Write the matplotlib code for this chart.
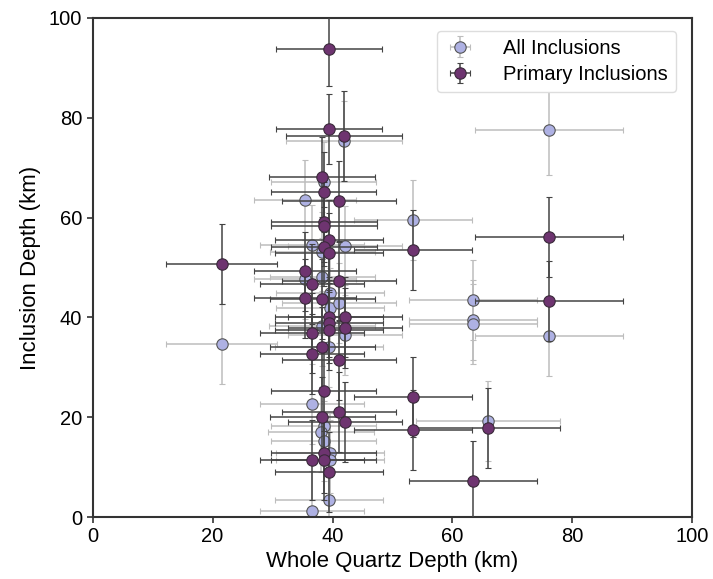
import matplotlib
matplotlib.use('Agg')
import matplotlib.pyplot as plt

plt.rcParams['font.family'] = ['Liberation Sans', 'DejaVu Sans']

# All inclusions (whole quartz depth, inclusion depth, errors in km)
all_x = [21.5, 35.4, 35.4, 36.6, 36.6, 36.6, 38.5, 38.3, 38.3, 38.2,
         38.5, 38.1, 38.5, 39.6, 39.6, 39.4, 39.6, 39.6, 39.4, 41.1,
         41.9, 42.0, 42.0, 53.4, 63.4, 63.4, 63.4, 66.0, 76.1, 76.1]
all_y = [34.7, 63.5, 47.6, 54.5, 22.6, 1.2, 67.1, 53.2, 48.0, 38.3,
         18.2, 17.1, 15.3, 44.9, 41.8, 34.1, 12.8, 11.4, 3.4, 42.9,
         75.4, 54.4, 36.5, 59.5, 43.5, 39.5, 38.7, 19.2, 77.6, 36.3]
all_xerr = [9.2, 8.5, 8.5, 8.7, 8.7, 8.7, 8.8, 8.8, 8.8, 8.8,
            8.8, 8.8, 8.8, 9.0, 9.0, 9.0, 9.0, 9.0, 9.0, 9.5,
            9.7, 9.5, 9.5, 9.9, 10.7, 10.7, 10.7, 12.0, 12.4, 12.3]
all_yerr = [8, 8, 8, 8, 8, 8, 8, 8, 8, 8,
            8, 8, 8, 8, 8, 8, 8, 8, 8, 8,
            8, 8, 8, 8, 8, 8, 8, 8, 9, 8]

# Primary inclusions
pri_x = [39.4, 39.4, 41.9, 38.2, 38.5, 41.1, 38.6, 38.6, 39.4, 38.6,
         39.4, 35.4, 36.6, 41.1, 35.4, 38.3, 39.4, 42.0, 39.4, 39.4,
         42.0, 36.6, 38.3, 36.6, 41.1, 38.5, 41.1, 38.3, 42.1, 38.5,
         36.6, 38.5, 39.4, 21.5, 53.4, 53.4, 53.4, 63.4, 66.0, 76.1, 76.1]
pri_y = [93.8, 77.8, 76.3, 68.1, 65.2, 63.4, 59.2, 58.3, 55.5, 54.2,
         53.0, 49.2, 46.7, 47.2, 43.8, 43.7, 40.1, 40.1, 38.8, 37.5,
         37.8, 36.8, 34.1, 32.7, 31.5, 25.3, 21.1, 20.1, 19.0, 12.8,
         11.4, 11.4, 9.0, 50.7, 53.5, 24.0, 17.4, 7.2, 17.8, 56.1, 43.3]
pri_xerr = [8.8, 8.8, 9.7, 8.8, 8.8, 9.5, 8.8, 8.8, 9.0, 8.8,
            9.0, 8.5, 8.7, 9.5, 8.5, 8.8, 9.0, 9.5, 9.0, 9.0,
            9.5, 8.7, 8.8, 8.7, 9.5, 8.8, 9.5, 8.8, 9.5, 8.8,
            8.7, 8.8, 9.0, 9.2, 9.9, 9.8, 9.8, 10.7, 12.0, 12.3, 12.3]
pri_yerr = [7.5, 7, 9, 8, 8, 8, 8, 8, 8, 8,
            8, 8, 8, 8, 8, 8, 8, 8, 8, 8,
            8, 8, 8, 8, 8, 8, 8, 8, 8, 8,
            8, 8, 8, 8, 8, 8, 8, 8, 8, 8, 8]

fig = plt.figure(figsize=(7.13, 5.79), dpi=100)
ax = fig.add_axes([0.130, 0.107, 0.841, 0.862])

ax.errorbar(all_x, all_y, xerr=all_xerr, yerr=all_yerr, fmt='o',
            color='#aeb1e3', markeredgecolor='#555555', markeredgewidth=0.8,
            markersize=8.2, ecolor='#bdbdbd', elinewidth=1.1, capsize=2.5,
            capthick=1.1, label='All Inclusions', zorder=2)
ax.errorbar(pri_x, pri_y, xerr=pri_xerr, yerr=pri_yerr, fmt='o',
            color='#6e3470', markeredgecolor='#3a2a3a', markeredgewidth=0.8,
            markersize=8.2, ecolor='#444444', elinewidth=1.1, capsize=2.5,
            capthick=1.1, label='Primary Inclusions', zorder=3)

ax.set_xlim(0, 100)
ax.set_ylim(0, 100)
ax.set_xticks([0, 20, 40, 60, 80, 100])
ax.set_yticks([0, 20, 40, 60, 80, 100])
ax.tick_params(labelsize=14.5, length=4, width=1.2, color='#333333')
ax.set_xlabel('Whole Quartz Depth (km)', fontsize=16, labelpad=3)
ax.set_ylabel('Inclusion Depth (km)', fontsize=16, labelpad=6)
for s in ax.spines.values():
    s.set_linewidth(1.5)
    s.set_color('#333333')

ax.legend(loc='upper right', fontsize=14.5, frameon=True, framealpha=1,
          edgecolor='#dddddd', handlelength=1.5, handletextpad=1.4,
          borderpad=0.4, labelspacing=0.35, bbox_to_anchor=(0.99, 0.995))

fig.savefig('out.png', dpi=100)
